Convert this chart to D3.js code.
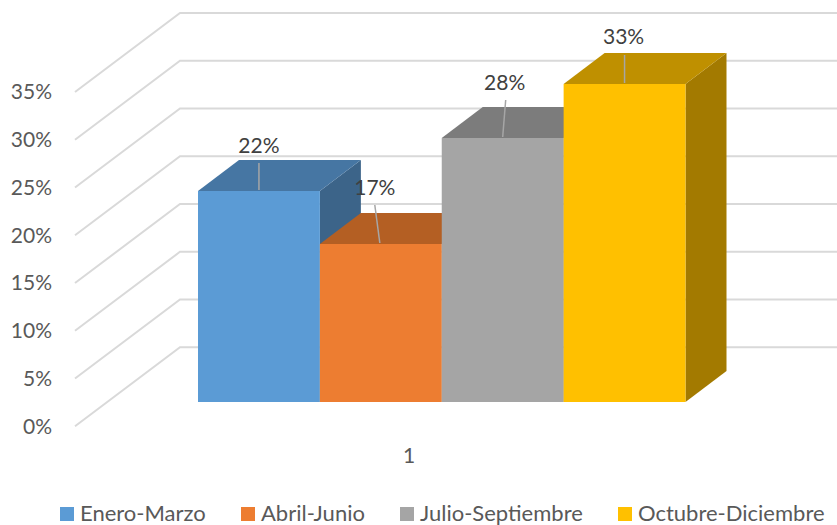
<!DOCTYPE html>
<html><head><meta charset="utf-8">
<script src="https://cdnjs.cloudflare.com/ajax/libs/d3/7.8.5/d3.min.js"></script>
<style>html,body{margin:0;padding:0;background:#fff}svg{display:block}text{font-family:Lato,"Open Sans",sans-serif}</style>
</head><body><svg id="c" width="837" height="525"></svg>
<script>
const seriesNames = ["Enero-Marzo","Abril-Junio","Julio-Septiembre","Octubre-Diciembre"];
const seriesValues = [22.1,16.5,27.7,33.3];
const dataLabels = ["22%","17%","28%","33%"];
const categoryLabels = ["1"];
const axisTicks = [0,5,10,15,20,25,30,35];
const frontColors = ["#5b9bd5","#ed7d31","#a5a5a5","#ffc000"];
const topColors = ["#4676a3","#b45f23","#7c7c7c","#bf9000"];
const sideColors = ["#3c6489","#a35220","#6b6b6b","#a37a00"];
// layout
const depth = {x:41, y:-31};
const wall = {x0:180, x1:837, dx:-105, dy:79};
const labelLayout = [
 {tx:0,ty:-38,lx0:0,ly0:-28,lx1:0,ly1:-1},
 {tx:-6,ty:-49,lx0:-6,ly0:-39,lx1:-1,ly1:-1},
 {tx:2,ty:-48,lx0:3,ly0:-38,lx1:0,ly1:-1},
 {tx:-1,ty:-40,lx0:0,ly0:-29,lx1:0,ly1:-1}
];
const legendX = [60,241,400,618];

const svg = d3.select("#c");
const yBack = d3.scaleLinear().domain([0,35]).range([347.3,13]);
const yFront = d3.scaleLinear().domain([0,35]).range([402,67.8]).interpolate(d3.interpolateRound);
const yAxisScale = d3.scaleLinear().domain([0,35]).range([347.3+wall.dy,13+wall.dy]);
const x = d3.scaleBand().domain(seriesNames).range([198,685.5]);
const grid = "#d9d9d9";

svg.append("g").selectAll("path").data(axisTicks).join("path")
  .attr("fill","none").attr("stroke",grid).attr("stroke-width",2)
  .attr("d",t=>d3.line()([[wall.x0+wall.dx,yBack(t)+wall.dy],[wall.x0,yBack(t)],[wall.x1,yBack(t)]]));

const axis = svg.append("g").attr("transform","translate(67,0)")
  .call(d3.axisLeft(yAxisScale).tickValues(axisTicks).tickSize(0).tickPadding(15).tickFormat(d=>d+"%"));
axis.select(".domain").remove();
axis.selectAll("text").attr("font-size",21).attr("fill","#595959").attr("font-family","Lato");

const bars = svg.append("g").selectAll("g").data(seriesNames).join("g");
const w = x.bandwidth();
const base = yFront(0);
bars.append("polygon").attr("fill",(d,i)=>sideColors[i])
  .attr("points",(d,i)=>{const l=x(d)+w,t=yFront(seriesValues[i]);return [[l,t],[l+depth.x,t+depth.y],[l+depth.x,base+depth.y],[l,base]].join(" ");});
bars.append("polygon").attr("fill",(d,i)=>topColors[i])
  .attr("points",(d,i)=>{const l=x(d),t=yFront(seriesValues[i]);return [[l,t],[l+w,t],[l+w+depth.x,t+depth.y],[l+depth.x,t+depth.y]].join(" ");});
bars.append("rect").attr("fill",(d,i)=>frontColors[i])
  .attr("x",d=>x(d)).attr("width",w)
  .attr("y",(d,i)=>yFront(seriesValues[i])).attr("height",(d,i)=>base-yFront(seriesValues[i]));

const lab = svg.append("g").selectAll("g").data(seriesNames).join("g")
  .attr("transform",(d,i)=>`translate(${x(d)+w/2},${yFront(seriesValues[i])})`);
lab.append("line").attr("stroke","#a6a6a6").attr("stroke-width",1.5)
  .attr("x1",(d,i)=>labelLayout[i].lx0).attr("y1",(d,i)=>labelLayout[i].ly0)
  .attr("x2",(d,i)=>labelLayout[i].lx1).attr("y2",(d,i)=>labelLayout[i].ly1);
lab.append("text").attr("text-anchor","middle").attr("font-size",21).attr("fill","#404040")
  .attr("x",(d,i)=>labelLayout[i].tx).attr("y",(d,i)=>labelLayout[i].ty).text((d,i)=>dataLabels[i]);

svg.append("text").attr("x",409).attr("y",463).attr("text-anchor","middle").attr("font-size",21).attr("fill","#595959").text(categoryLabels[0]);

const leg = svg.append("g").selectAll("g").data(seriesNames).join("g")
  .attr("transform",(d,i)=>`translate(${legendX[i]},507)`);
leg.append("rect").attr("width",14).attr("height",14).attr("fill",(d,i)=>frontColors[i]);
leg.append("text").attr("x",20).attr("y",14).attr("font-size",22).attr("fill","#595959").text(d=>d);
</script></body></html>
